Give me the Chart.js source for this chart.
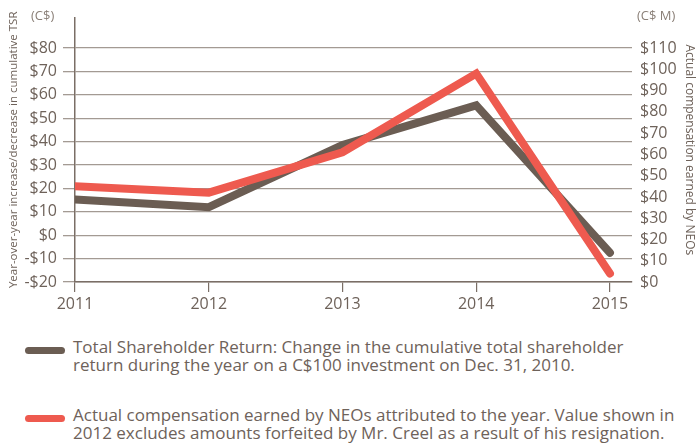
<!DOCTYPE html>
<html>
<head>
<meta charset="utf-8">
<script src="https://cdn.jsdelivr.net/npm/chart.js@4.4.1/dist/chart.umd.min.js"></script>
<style>
  html, body { margin: 0; padding: 0; background: #ffffff; }
  body { width: 697px; height: 447px; position: relative; overflow: hidden;
         font-family: "Open Sans", sans-serif; color: #6e625a; }
  #chartBox { position: absolute; left: 0; top: 0; width: 697px; height: 322px; }
  .unit { position: absolute; top: 6px; font-size: 13px; color: #8a7f77; }
  .legend-item { position: absolute; left: 25px; display: flex; align-items: flex-start; }
  .swatch { width: 40px; height: 7px; border-radius: 4px; margin-top: 9px; flex: none; }
  .legend-text { margin-left: 8px; font-size: 17px; line-height: 18px; color: #6e625a; }
</style>
</head>
<body>
<div id="chartBox"><canvas id="tsrChart"></canvas></div>
<div class="unit" style="left:31px;">(C$)</div>
<div class="unit" style="left:637px;">(C$ M)</div>
<div class="legend-item" style="top:338px;">
  <div class="swatch" style="background:#6b5d53;"></div>
  <div class="legend-text">Total Shareholder Return: Change in the cumulative total shareholder<br>return during the year on a C$100 investment on Dec. 31, 2010.</div>
</div>
<div class="legend-item" style="top:406px;">
  <div class="swatch" style="background:#ee5a4f;"></div>
  <div class="legend-text">Actual compensation earned by NEOs attributed to the year. Value shown in<br>2012 excludes amounts forfeited by Mr. Creel as a result of his resignation.</div>
</div>

<script>
// 数据
const years = [2011, 2012, 2013, 2014, 2015];
const tsrChange = [15.3, 12, 38.5, 55.5, -7.5];      // 左轴 C$
const neoComp = [45, 42, 61, 98, 4];                 // 右轴 C$ M
const leftTicks = [-20, -10, 0, 10, 20, 30, 40, 50, 60, 70, 80];
const rightTicks = [0, 10, 20, 30, 40, 50, 60, 70, 80, 90, 100, 110];

const textColor = '#6e625a';
const gridColor = '#a39a93';
const axisColor = '#7a6e66';

const ctx = document.getElementById('tsrChart').getContext('2d');

new Chart(ctx, {
    type: 'line',
    data: {
        datasets: [
            {
                label: 'NEO compensation',
                data: years.map((y, i) => ({ x: y, y: neoComp[i] })),
                yAxisID: 'y1',
                borderColor: '#ee5a4f',
                borderWidth: 8,
                borderCapStyle: 'round',
                borderJoinStyle: 'miter',
                pointRadius: 0,
                tension: 0
            },
            {
                label: 'TSR',
                data: years.map((y, i) => ({ x: y, y: tsrChange[i] })),
                yAxisID: 'y',
                borderColor: '#6b5d53',
                borderWidth: 8,
                borderCapStyle: 'round',
                borderJoinStyle: 'miter',
                pointRadius: 0,
                tension: 0
            }
        ]
    },
    options: {
        responsive: true,
        maintainAspectRatio: false,
        animation: false,
        layout: { padding: { top: 13, left: 0, right: 0, bottom: 0 } },
        plugins: {
            legend: { display: false },
            tooltip: { enabled: false }
        },
        scales: {
            x: {
                type: 'linear',
                min: 2011,
                max: 2015.165,
                afterBuildTicks: scale => { scale.ticks = years.map(v => ({ value: v })); },
                afterFit: scale => { scale.height = 40; },
                ticks: {
                    color: textColor,
                    font: { family: 'Open Sans', size: 16 },
                    padding: 3,
                    maxRotation: 0,
                    callback: v => String(v)
                },
                grid: { display: true, drawOnChartArea: false, drawTicks: true, tickLength: 10, color: axisColor, lineWidth: 1.2 },
                border: { display: true, color: axisColor, width: 1.5 }
            },
            y: {
                position: 'left',
                min: -20,
                max: 93,
                afterBuildTicks: scale => { scale.ticks = leftTicks.map(v => ({ value: v })); },
                afterFit: scale => { scale.width = 75; },
                ticks: {
                    color: textColor,
                    font: { family: 'Open Sans', size: 16 },
                    padding: 6,
                    callback: v => (v < 0 ? '-$' + Math.abs(v) : '$' + v)
                },
                grid: { color: gridColor, lineWidth: 1.3, tickLength: 12, drawTicks: true },
                border: { display: true, color: axisColor, width: 1.5 },
                title: {
                    display: true,
                    text: 'Year-over-year increase/decrease in cumulative TSR',
                    color: textColor,
                    font: { family: 'Open Sans', size: 11.5 },
                    padding: { top: 7, bottom: 0 }
                }
            },
            y1: {
                position: 'right',
                min: 0,
                max: 124.35,
                afterBuildTicks: scale => { scale.ticks = rightTicks.map(v => ({ value: v })); },
                afterFit: scale => { scale.width = 65; },
                ticks: {
                    color: textColor,
                    font: { family: 'Open Sans', size: 16 },
                    padding: 8,
                    callback: v => '$' + v
                },
                grid: { display: false, drawTicks: false },
                border: { display: false },
                title: {
                    display: true,
                    text: 'Actual compensation earned by NEOs',
                    color: textColor,
                    font: { family: 'Open Sans', size: 12 },
                    padding: { top: 0, bottom: 0 }
                }
            }
        }
    }
});
</script>
</body>
</html>
